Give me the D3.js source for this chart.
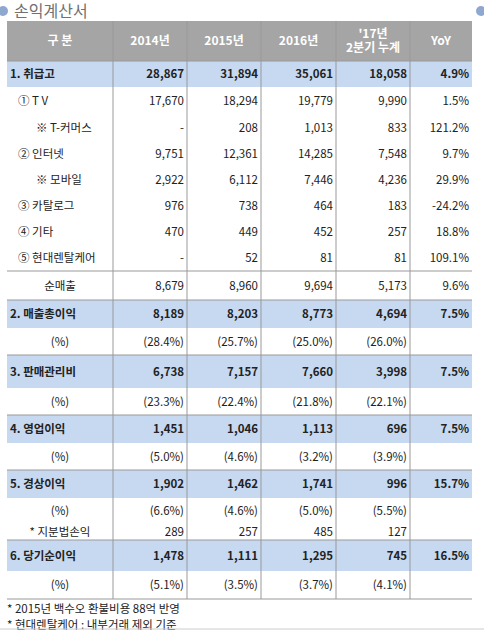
<!DOCTYPE html><html><head><meta charset="utf-8"><script src="https://cdn.jsdelivr.net/npm/d3@7"></script>
<style>body{margin:0;background:#fff}</style></head><body><svg id="c" width="484" height="631"></svg>
<script>
const columns=["구 분","2014년","2015년","2016년","'17년|2분기 누계","YoY"];
const labels=["1. 취급고","① T  V","※ T-커머스","② 인터넷","※ 모바일","③ 카탈로그","④ 기타","⑤ 현대렌탈케어","순매출","2. 매출총이익","(%)","3. 판매관리비","(%)","4. 영업이익","(%)","5. 경상이익","(%)","* 지분법손익","6. 당기순이익","(%)"];
const v2014=["28,867","17,670","-","9,751","2,922","976","470","-","8,679","8,189","(28.4%)","6,738","(23.3%)","1,451","(5.0%)","1,902","(6.6%)","289","1,478","(5.1%)"];
const v2015=["31,894","18,294","208","12,361","6,112","738","449","52","8,960","8,203","(25.7%)","7,157","(22.4%)","1,046","(4.6%)","1,462","(4.6%)","257","1,111","(3.5%)"];
const v2016=["35,061","19,779","1,013","14,285","7,446","464","452","81","9,694","8,773","(25.0%)","7,660","(21.8%)","1,113","(3.2%)","1,741","(5.0%)","485","1,295","(3.7%)"];
const v2017=["18,058","9,990","833","7,548","4,236","183","257","81","5,173","4,694","(26.0%)","3,998","(22.1%)","696","(3.9%)","996","(5.5%)","127","745","(4.1%)"];
const yoy=["4.9%","1.5%","121.2%","9.7%","29.9%","-24.2%","18.8%","109.1%","9.6%","7.5%","","7.5%","","7.5%","","15.7%","","","16.5%",""];
const kind=["h","i","i2","i","i2","i","i","i","c","h","p","h","p","h","p","h","p","s","h","p"];
const footnotes=["* 2015년 백수오 환불비용 88억 반영","* 현대렌탈케어 : 내부거래 제외 기준"];

const svg=d3.select("#c"),F="'Noto Sans CJK KR','Noto Sans',sans-serif";
svg.append("circle").attr("cx",3).attr("cy",11).attr("r",5).attr("fill","#8fa8d0");
svg.append("circle").attr("cx",481).attr("cy",11).attr("r",5).attr("fill","#8fa8d0");
svg.append("text").attr("x",14).attr("y",17).attr("font-family",F).attr("font-size",16).attr("fill","#707070").text("손익계산서");
const colEdges=[7,113,187,261,336,410,472];
const T0=21,hdrH=40;
const heights=[26,27,27,26,26,26,26,26,29,28,27,33,27,28,27,28,26,16,31,28];
const ys=[];let yy=T0+hdrH;heights.forEach(h=>{ys.push(yy);yy+=h});const bottom=yy;
svg.append("rect").attr("x",7).attr("y",T0).attr("width",465).attr("height",hdrH).attr("fill","#a5a5a5");
columns.forEach((c,i)=>{const cx=(colEdges[i]+colEdges[i+1])/2;const parts=c.split("|");
 parts.forEach((p,j)=>svg.append("text").attr("x",cx).attr("y",T0+hdrH/2+4+(j-(parts.length-1)/2)*14).attr("text-anchor","middle")
 .attr("font-family",F).attr("font-size",12).attr("font-weight","bold").attr("fill","#fff").text(p));});
const vals=[v2014,v2015,v2016,v2017,yoy];
labels.forEach((l,i)=>{const k=kind[i],y0=ys[i],h=heights[i],cy=y0+h/2+4;
 if(k==="h")svg.append("rect").attr("x",7).attr("y",y0).attr("width",465).attr("height",h).attr("fill","#c6d9f1");
 const bold=k==="h";
 let x=10,anchor="start";
 if(k==="i")x=18;if(k==="i2")x=36;if(k==="c"||k==="p"||k==="s"){x=60;anchor="middle"}
 svg.append("text").attr("x",x).attr("y",cy).attr("text-anchor",anchor).attr("font-family",F).attr("font-size",11.5)
  .attr("font-weight",bold?"bold":"normal").attr("fill","#222").text(l);
 vals.forEach((arr,j)=>svg.append("text").attr("x",colEdges[j+2]-3).attr("y",cy).attr("text-anchor","end").attr("font-family",F)
  .attr("font-size",11.5).attr("font-weight",bold?"bold":"normal").attr("fill","#222").text(arr[i]));
 if(["h","c"].includes(k)||i===0)svg.append("line").attr("x1",7).attr("x2",472).attr("y1",y0).attr("y2",y0).attr("stroke","#999");
});
svg.append("line").attr("x1",7).attr("x2",472).attr("y1",bottom).attr("y2",bottom).attr("stroke","#999");
colEdges.slice(1,-1).forEach(x=>svg.append("line").attr("x1",x).attr("x2",x).attr("y1",T0).attr("y2",bottom).attr("stroke","#999"));
footnotes.forEach((f,i)=>svg.append("text").attr("x",7).attr("y",bottom+14+i*16).attr("font-family",F).attr("font-size",11.5).attr("fill","#222").text(f));
svg.append("line").attr("x1",0).attr("x2",484).attr("y1",629).attr("y2",629).attr("stroke","#ccc");
</script></body></html>
